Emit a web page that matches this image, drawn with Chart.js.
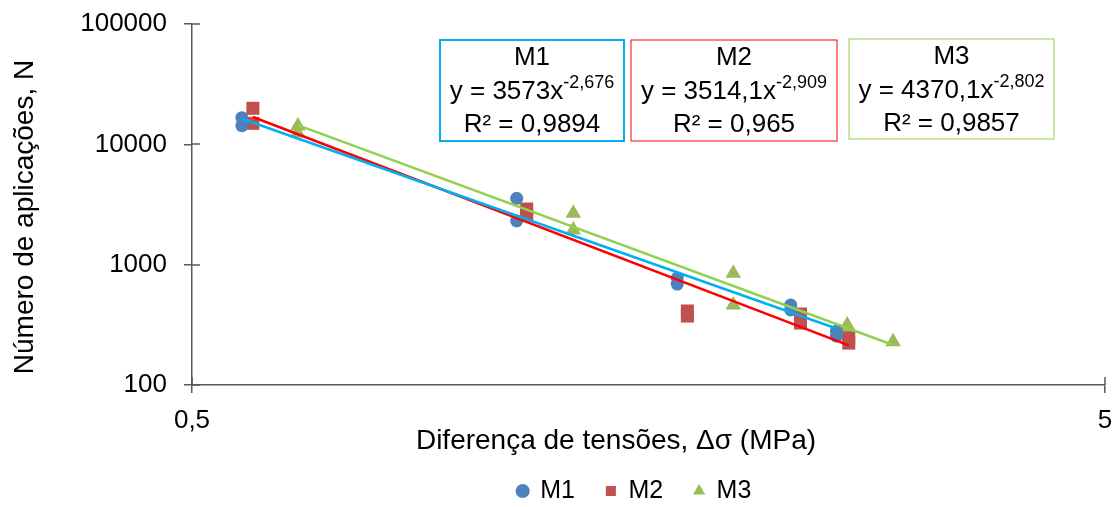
<!DOCTYPE html>
<html>
<head>
<meta charset="utf-8">
<script src="https://cdn.jsdelivr.net/npm/chart.js@4/dist/chart.umd.min.js"></script>
<style>
  html, body { margin: 0; padding: 0; background: #fff; }
  #wrap { position: relative; width: 1115px; height: 507px; }
</style>
</head>
<body>
<div id="wrap"><canvas id="chart"></canvas></div>
<script>
// stress difference (MPa) and number of load applications, per mix
const m1Stress = [0.567, 0.567, 1.134, 1.134, 1.70, 1.70, 2.263, 2.263, 2.54, 2.54];
const m1Cycles = [16650, 14290, 3560, 2306, 775, 690, 462, 420, 281, 255];
const m2Stress = [0.583, 0.583, 1.163, 1.163, 1.744, 1.744, 2.32, 2.32, 2.62, 2.62];
const m2Cycles = [19925, 14950, 2900, 2588, 412, 374, 389, 327, 246, 223];
const m3Stress = [0.653, 0.653, 1.308, 1.308, 1.958, 1.958, 2.61, 2.61, 2.93];
const m3Cycles = [14200, 12420, 2672, 1941, 848, 462, 315, 281, 229];

// power trendlines y = a * x^b
const fitNames = ['M1', 'M2', 'M3'];
const fitCoef = [3573, 3514.1, 4370.1];
const fitExp = [-2.676, -2.909, -2.802];
const fitR2 = [0.9894, 0.965, 0.9857];

const xTicks = [0.5, 5];
const yTicks = [100, 1000, 10000, 100000];

const xTitle = 'Diferença de tensões, Δσ (MPa)';
const yTitle = 'Número de aplicações, N';

const FONT = "'Liberation Sans', Arial, sans-serif";
const AXIS = '#595959';
const markerColors = ['#4F81BD', '#C0504D', '#9BBB59'];
const lineColors = ['#00B0F0', '#FF0000', '#92D050'];

const comma = v => String(v).replace('.', ',');
const toPoints = (xs, ys) => xs.map((x, i) => ({x: x, y: ys[i]}));

const series = [[m1Stress, m1Cycles], [m2Stress, m2Cycles], [m3Stress, m3Cycles]];

// trendline from the smallest to the largest stress of each mix
const trendData = series.map(([xs], i) => {
    const lo = Math.min(...xs), hi = Math.max(...xs);
    return [lo, hi].map(x => ({x: x, y: fitCoef[i] * Math.pow(x, fitExp[i])}));
});

const trendSets = trendData.map((d, i) => ({
    label: 'trend ' + fitNames[i],
    data: d,
    showLine: true,
    borderColor: lineColors[i],
    borderWidth: 2.5,
    pointRadius: 0
}));

const pointStyles = ['circle', 'rect', 'triangle'];
const pointSizes = [6.5, 9.2, 9];
const markerSets = series.map(([xs, ys], i) => ({
    label: fitNames[i],
    data: toPoints(xs, ys),
    pointStyle: pointStyles[i],
    pointRadius: pointSizes[i],
    pointHoverRadius: pointSizes[i],
    backgroundColor: markerColors[i],
    borderColor: markerColors[i],
    borderWidth: 0,
    showLine: false
}));

// boxes with the fitted equations
const fitBoxes = [
    {x: 440, y: 40, w: 184, h: 101, lw: 2},
    {x: 631, y: 40, w: 206, h: 101, lw: 1},
    {x: 849, y: 39, w: 205, h: 100, lw: 1}
];

const equationBoxes = {
    id: 'equationBoxes',
    afterDraw(chart) {
        const ctx = chart.ctx;
        ctx.save();
        fitBoxes.forEach((b, i) => {
            ctx.strokeStyle = lineColors[i];
            ctx.lineWidth = b.lw;
            ctx.strokeRect(b.x, b.y, b.w, b.h);
            const cx = b.x + b.w / 2;
            ctx.fillStyle = '#000';
            ctx.textBaseline = 'middle';
            ctx.textAlign = 'center';
            ctx.font = '26px ' + FONT;
            ctx.fillText(fitNames[i], cx, b.y + 18);
            ctx.fillText('R² = ' + comma(fitR2[i]), cx, b.y + 85);
            // equation with superscript exponent
            const main = 'y = ' + comma(fitCoef[i]) + 'x';
            const sup = comma(fitExp[i]);
            const wm = ctx.measureText(main).width;
            ctx.font = '18px ' + FONT;
            const ws = ctx.measureText(sup).width;
            const x0 = cx - (wm + ws) / 2;
            ctx.textAlign = 'left';
            ctx.font = '26px ' + FONT;
            ctx.fillText(main, x0, b.y + 52);
            ctx.font = '18px ' + FONT;
            ctx.fillText(sup, x0 + wm, b.y + 43);
        });
        ctx.restore();
    }
};

// axis titles, plus tick marks that cross the axis line
const axisDecor = {
    id: 'axisDecor',
    afterDraw(chart) {
        const {ctx, chartArea: a, scales: {x, y}} = chart;
        ctx.save();
        ctx.strokeStyle = AXIS;
        ctx.lineWidth = 1.5;
        ctx.beginPath();
        yTicks.forEach(v => {
            const p = Math.round(y.getPixelForValue(v));
            ctx.moveTo(a.left, p);
            ctx.lineTo(a.left + 8, p);
        });
        xTicks.forEach(v => {
            const p = Math.round(x.getPixelForValue(v));
            ctx.moveTo(p, a.bottom);
            ctx.lineTo(p, a.bottom - 8);
        });
        ctx.stroke();

        ctx.fillStyle = '#000';
        ctx.font = '28px ' + FONT;
        ctx.textAlign = 'center';
        ctx.textBaseline = 'middle';
        ctx.fillText(xTitle, a.left + 424, a.bottom + 56);
        ctx.translate(25, a.top + 193);
        ctx.rotate(-Math.PI / 2);
        ctx.fillText(yTitle, 0, 0);
        ctx.restore();
    }
};

// legend sits a little left of the plot centre
const legendShift = {
    id: 'legendShift',
    afterLayout(chart) {
        const lg = chart.legend;
        lg.left -= 14;
        lg.right -= 14;
    }
};

new Chart(document.getElementById('chart'), {
    type: 'scatter',
    data: {datasets: [...trendSets, ...markerSets]},
    options: {
        responsive: true,
        maintainAspectRatio: false,
        animation: false,
        layout: {padding: {top: 24, right: 10, left: 0, bottom: 0}},
        scales: {
            x: {
                type: 'logarithmic',
                min: 0.5,
                max: 5,
                afterBuildTicks: s => { s.ticks = xTicks.map(v => ({value: v})); },
                afterFit: s => {
                    s.height = 62.5;
                    s.paddingLeft = 0;
                    s.paddingRight = 0;
                },
                ticks: {
                    font: {family: FONT, size: 26},
                    color: '#000',
                    padding: 12,
                    maxRotation: 0,
                    callback: v => comma(v)
                },
                grid: {drawOnChartArea: false, tickLength: 8, color: AXIS, lineWidth: 1.5},
                border: {color: AXIS, width: 1.5}
            },
            y: {
                type: 'logarithmic',
                min: 100,
                max: 100000,
                afterBuildTicks: s => { s.ticks = yTicks.map(v => ({value: v})); },
                afterFit: s => {
                    s.width = 192;
                    s.paddingTop = 0;
                    s.paddingBottom = 0;
                },
                ticks: {
                    font: {family: FONT, size: 26},
                    color: '#000',
                    padding: 17,
                    callback: v => String(v)
                },
                grid: {drawOnChartArea: false, tickLength: 8, color: AXIS, lineWidth: 1.5},
                border: {color: AXIS, width: 1.5}
            }
        },
        plugins: {
            legend: {
                position: 'bottom',
                fullSize: false,
                maxHeight: 59.5,
                labels: {
                    usePointStyle: true,
                    boxWidth: 10,
                    boxHeight: 10,
                    padding: 31,
                    color: '#000',
                    font: {family: FONT, size: 25},
                    filter: item => !item.text.startsWith('trend')
                }
            },
            tooltip: {enabled: false}
        }
    },
    plugins: [equationBoxes, axisDecor, legendShift]
});
</script>
</body>
</html>
